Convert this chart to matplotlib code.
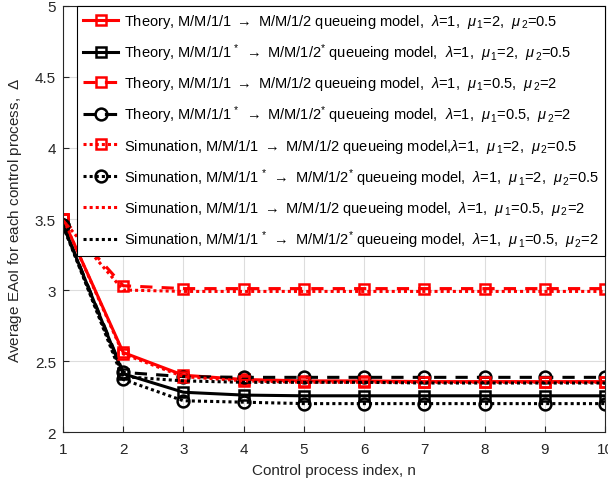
import numpy as np
import matplotlib
matplotlib.use('Agg')
import matplotlib.pyplot as plt

plt.rcParams['font.family'] = ['Liberation Sans', 'DejaVu Sans']
plt.rcParams['mathtext.fontset'] = 'custom'
plt.rcParams['mathtext.rm'] = 'Liberation Sans'
plt.rcParams['mathtext.it'] = 'Liberation Sans:italic'

# data
n = [1, 2, 3, 4, 5, 6, 7, 8, 9, 10]
theory_a = [3.50, 2.56, 2.40, 2.37, 2.36, 2.36, 2.355, 2.355, 2.355, 2.355]
theory_a_star = [3.46, 2.41, 2.28, 2.26, 2.255, 2.255, 2.255, 2.255, 2.255, 2.255]
theory_b = [3.50, 3.03, 3.01, 3.01, 3.01, 3.01, 3.01, 3.01, 3.01, 3.01]
theory_b_star = [3.46, 2.42, 2.39, 2.385, 2.385, 2.385, 2.385, 2.385, 2.385, 2.385]
sim_a = [3.50, 2.55, 2.39, 2.36, 2.35, 2.35, 2.35, 2.35, 2.35, 2.35]
sim_a_star = [3.46, 2.37, 2.22, 2.21, 2.20, 2.20, 2.20, 2.20, 2.20, 2.20]
sim_b = [3.49, 3.00, 2.99, 2.99, 2.99, 2.99, 2.99, 2.99, 2.99, 2.99]
sim_b_star = [3.45, 2.39, 2.36, 2.35, 2.35, 2.35, 2.345, 2.345, 2.345, 2.345]

labels = [
    r'Theory, M/M/1/1 $\rightarrow$ M/M/1/2 queueing model,  $\lambda$=1,  $\mu_{\,1}$=2,  $\mu_{\,2}$=0.5',
    r'Theory, M/M/1/1$^{\,*}$ $\rightarrow$ M/M/1/2$^{*}$ queueing model,  $\lambda$=1,  $\mu_{\,1}$=2,  $\mu_{\,2}$=0.5',
    r'Theory, M/M/1/1 $\rightarrow$ M/M/1/2 queueing model,  $\lambda$=1,  $\mu_{\,1}$=0.5,  $\mu_{\,2}$=2',
    r'Theory, M/M/1/1$^{\,*}$ $\rightarrow$ M/M/1/2$^{*}$ queueing model,  $\lambda$=1,  $\mu_{\,1}$=0.5,  $\mu_{\,2}$=2',
    r'Simunation, M/M/1/1 $\rightarrow$ M/M/1/2 queueing model,$\lambda$=1,  $\mu_{\,1}$=2,  $\mu_{\,2}$=0.5',
    r'Simunation, M/M/1/1$^{\,*}$ $\rightarrow$ M/M/1/2$^{*}$ queueing model,  $\lambda$=1,  $\mu_{\,1}$=2,  $\mu_{\,2}$=0.5',
    r'Simunation, M/M/1/1 $\rightarrow$ M/M/1/2 queueing model,  $\lambda$=1,  $\mu_{\,1}$=0.5,  $\mu_{\,2}$=2',
    r'Simunation, M/M/1/1$^{\,*}$ $\rightarrow$ M/M/1/2$^{*}$ queueing model,  $\lambda$=1,  $\mu_{\,1}$=0.5,  $\mu_{\,2}$=2',
]

fig = plt.figure(figsize=(6.08, 4.89), dpi=100)
ax = fig.add_axes([0.1036, 0.1145, 0.8914, 0.8712])

lw = 2.2
sq = dict(marker='s', markersize=7, markerfacecolor='none', markeredgewidth=1.8)
ci = dict(marker='o', markersize=8.5, markerfacecolor='none', markeredgewidth=1.8)

ax.plot(n, theory_a, color='red', linestyle='-', lw=lw, label=labels[0], **sq)
ax.plot(n, theory_a_star, color='black', linestyle='-', lw=lw, label=labels[1], **sq)
ax.plot(n, theory_b, color='red', linestyle=(0, (4, 3)), lw=lw, label=labels[2], **sq)
ax.plot(n, theory_b_star, color='black', linestyle=(0, (4, 3)), lw=lw, label=labels[3], **ci)
ax.plot(n, sim_a, color='red', linestyle=(0, (1, 1)), lw=lw, label=labels[4], **sq)
ax.plot(n, sim_a_star, color='black', linestyle=(0, (1, 1)), lw=lw, label=labels[5], **ci)
ax.plot(n, sim_b, color='red', linestyle=(0, (1, 1)), lw=lw, label=labels[6])
ax.plot(n, sim_b_star, color='black', linestyle=(0, (1, 1)), lw=lw, label=labels[7])

ax.set_xlim(1, 10)
ax.set_ylim(2, 5)
ax.set_xticks(n)
ax.set_yticks([2, 2.5, 3, 3.5, 4, 4.5, 5])
ax.set_yticklabels(['2', '2.5', '3', '3.5', '4', '4.5', '5'])
ax.grid(True, color='#dddddd', linewidth=0.8)
ax.set_axisbelow(True)
ax.tick_params(direction='in', labelsize=11, colors='#262626', length=4)
ax.tick_params(axis='x', pad=7)
ax.tick_params(axis='y', pad=5)
for s in ax.spines.values():
    s.set_color('#262626')
    s.set_linewidth(0.8)

ax.set_xlabel('Control process index, n', fontsize=11, color='#262626', labelpad=5)
ax.set_ylabel(r'Average EAoI for each control process,  $\Delta$', fontsize=11,
              color='#262626', labelpad=8)

leg = ax.legend(loc='upper right', bbox_to_anchor=(1, 1), borderaxespad=0,
                fontsize=10.5, handlelength=2.4, labelspacing=0.78, fancybox=False,
                edgecolor='black', framealpha=1, borderpad=0.4, handletextpad=0.4)
leg.get_frame().set_linewidth(0.8)

plt.savefig('out.png', dpi=100)
